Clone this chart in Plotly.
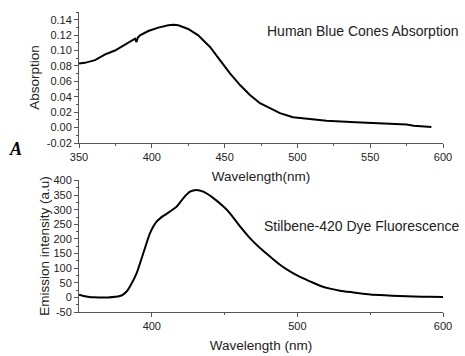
import plotly.graph_objects as go

# Human blue cone absorption spectrum
abs_wavelength = [350, 354, 361, 368, 374.7, 381.6, 386, 388.5, 389.5, 390.3, 391.9, 397.6, 404.5,
                  411.3, 415, 418.2, 425, 431.9, 436.5, 440, 446.8, 453.7, 460.6, 467.4, 474.3,
                  481.2, 488, 497, 508.6, 520, 540, 560, 575, 580, 592]
abs_values = [0.083, 0.084, 0.0875, 0.095, 0.100, 0.1077, 0.1124, 0.1155, 0.111, 0.1165, 0.1197,
              0.1253, 0.1297, 0.1327, 0.1333, 0.1327, 0.128, 0.1197, 0.111, 0.1046, 0.0875, 0.0703,
              0.0552, 0.0423, 0.0316, 0.0252, 0.0187, 0.0135, 0.011, 0.009, 0.007, 0.005, 0.004,
              0.0023, 0.0007]

# Stilbene-420 dye fluorescence spectrum
em_wavelength = [350, 353, 357, 360, 370, 375, 378, 380, 383, 385, 389.6, 394.2, 398.8, 403.4,
                 407.9, 412.5, 417.1, 421.7, 426.2, 430.8, 435.4, 442.3, 449.2, 453.7, 460.6,
                 467.4, 474.3, 481.2, 488, 494.9, 501.8, 508.6, 515.5, 522.4, 529.2, 538.4,
                 550, 560, 570, 580, 590, 600]
em_values = [9, 5, 1.5, 0.5, 0, 2, 5, 9, 22, 37, 83, 152, 220, 260, 279, 294, 311, 340, 362, 368,
             362, 340, 311, 288, 243, 203, 169, 140, 112, 89, 70, 55, 40, 30, 23, 17,
             10, 7, 5, 3, 2, 1]

# Axis tick labels
abs_tickvals = [-0.02, 0.00, 0.02, 0.04, 0.06, 0.08, 0.10, 0.12, 0.14]
abs_ticktext = ["-0.02", "0.00", "0.02", "0.04", "0.06", "0.08", "0.10", "0.12", "0.14"]
em_tickvals = [-50, 0, 50, 100, 150, 200, 250, 300, 350, 400]
em_ticktext = ["-50", "0", "50", "100", "150", "200", "250", "300", "350", "400"]

FONT = "Liberation Sans, Arial, sans-serif"
TXT = "#222222"
AX = "#555555"

fig = go.Figure()
fig.add_trace(go.Scatter(x=abs_wavelength, y=abs_values, mode="lines",
                         line=dict(color="black", width=2), xaxis="x", yaxis="y",
                         showlegend=False, hoverinfo="skip"))
fig.add_trace(go.Scatter(x=em_wavelength, y=em_values, mode="lines",
                         line=dict(color="black", width=2, shape="spline", smoothing=0.6),
                         xaxis="x2", yaxis="y2", showlegend=False, hoverinfo="skip"))

axis_common = dict(showline=True, linecolor=AX, linewidth=1, ticks="outside",
                   ticklen=4, tickcolor=AX, showgrid=False, zeroline=False, automargin=False,
                   tickfont=dict(family=FONT, size=11, color=TXT))
title_font = dict(family=FONT, size=13.5, color=TXT)

fig.update_layout(
    width=465, height=356,
    margin=dict(l=79, r=22, t=12, b=44),
    paper_bgcolor="white", plot_bgcolor="white",
    xaxis=dict(domain=[0, 1], anchor="y", range=[350, 600], dtick=50, tick0=350,
               minor=dict(ticks="outside", dtick=25, tick0=350, ticklen=2, tickcolor=AX),
               title=dict(text="Wavelength(nm)", font=title_font, standoff=9),
               **axis_common),
    yaxis=dict(domain=[0.5633, 1.0], anchor="x", range=[-0.02, 0.15],
               tickmode="array", tickvals=abs_tickvals, ticktext=abs_ticktext,
               minor=dict(ticks="outside", dtick=0.01, tick0=0, ticklen=2, tickcolor=AX),
               title=dict(text="Absorption", font=title_font, standoff=3),
               **axis_common),
    xaxis2=dict(domain=[0, 1], anchor="y2", range=[350, 600], tickmode="array",
                tickvals=[400, 500, 600],
                minor=dict(ticks="outside", tickvals=[450, 550], ticklen=2, tickcolor=AX),
                title=dict(text="Wavelength (nm)", font=title_font, standoff=9),
                **axis_common),
    yaxis2=dict(domain=[0, 0.44], anchor="x2", range=[-50, 402],
                tickmode="array", tickvals=em_tickvals, ticktext=em_ticktext,
                minor=dict(ticks="outside", dtick=25, tick0=0, ticklen=2, tickcolor=AX),
                title=dict(text="Emission intensity (a.u)", font=title_font, standoff=0),
                **axis_common),
    annotations=[
        dict(text="Human Blue Cones Absorption", x=460, y=31, xref="paper", yref="paper",
             showarrow=False, font=dict(family=FONT, size=14, color=TXT)),
        dict(text="Stilbene-420 Dye Fluorescence", x=462, y=226, xref="paper", yref="paper",
             showarrow=False, font=dict(family=FONT, size=14, color=TXT)),
        dict(text="<b><i>A</i></b>", x=15.5, y=149, xref="paper", yref="paper",
             showarrow=False, font=dict(family="Liberation Serif, serif", size=18, color="black")),
    ],
)

# Place the annotations in pixel coordinates of the page
W, H = 465, 356
L, R, T, B = 79, 22, 12, 44
pw, ph = W - L - R, H - T - B
for ann, anchor in zip(fig.layout.annotations, ["right", "right", "center"]):
    px, py = ann.x, ann.y
    ann.x = (px - L) / pw
    ann.y = (H - B - py) / ph
    ann.xanchor = anchor
    ann.yanchor = "middle"

fig.write_html("out.html")
